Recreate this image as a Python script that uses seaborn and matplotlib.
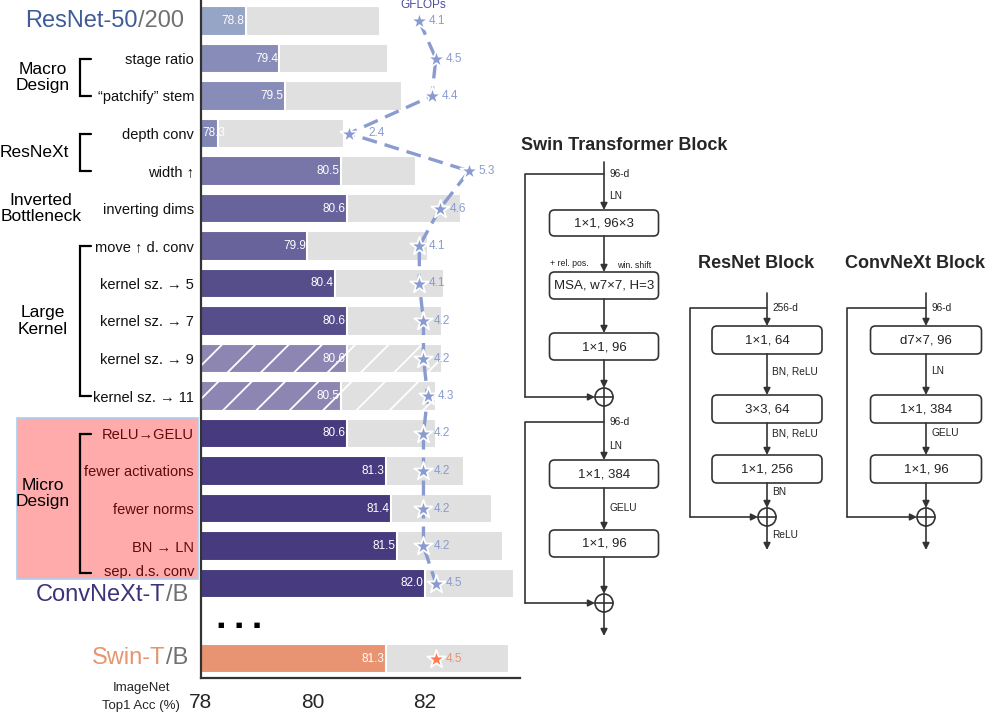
import numpy as np
import pandas as pd
import matplotlib
matplotlib.use("Agg")
import matplotlib.pyplot as plt
import matplotlib.transforms as mtransforms
from matplotlib.patches import FancyBboxPatch, Rectangle, Circle
import seaborn as sns

# ---------------------------
# DATA
# ---------------------------
row_keys = ["resnet", "stage", "patchify", "depth", "width", "invert", "move",
            "k5", "k7", "k9", "k11", "gelu", "act", "norms", "bnln", "ds", "gap", "swin"]
row_labels = ["", "stage ratio", "\u201cpatchify\u201d stem", "depth conv", "width \u2191",
              "inverting dims", "move \u2191 d. conv", "kernel sz. \u2192 5", "kernel sz. \u2192 7",
              "kernel sz. \u2192 9", "kernel sz. \u2192 11", "ReLU\u2192GELU", "fewer activations",
              "fewer norms", "BN \u2192 LN", "sep. d.s. conv", "", ""]
acc_t = [78.8, 79.4, 79.5, 78.3, 80.5, 80.6, 79.9, 80.4, 80.6, 80.6, 80.5,
         80.6, 81.3, 81.4, 81.5, 82.0, np.nan, 81.3]
acc_b = [81.2, 81.35, 81.6, 80.55, 81.85, 82.65, 82.05, 82.35, 82.3, 82.3, 82.2,
         82.2, 82.7, 83.2, 83.4, 83.6, np.nan, 83.5]
gflops = [4.1, 4.5, 4.4, 2.4, 5.3, 4.6, 4.1, 4.1, 4.2, 4.2, 4.3,
          4.2, 4.2, 4.2, 4.2, 4.5]
swin_gflops = 4.5
hatched = ["k9", "k11"]

bar_colors = ["#96a4c5", "#878db8", "#878db8", "#8187b4", "#7876a9", "#68639b", "#68639b",
              "#564e8b", "#564e8b", "#8d86b3", "#8d86b3", "#473a7e", "#473a7e", "#473a7e",
              "#473a7e", "#473a7e", "#ffffff", "#e89473"]

groups = [("Macro\nDesign", 1.5, 43, 1, 2), ("ResNeXt", 3.5, 34, 3, 4),
          ("Inverted\nBottleneck", 5, 41, None, None), ("Large\nKernel", 8, 43, 6, 10),
          ("Micro\nDesign", 12.6, 43, 11, 14.73)]

df = pd.DataFrame({"key": row_keys, "t": acc_t, "b": acc_b}).dropna()

# ---------------------------
# FIGURE
# ---------------------------
sns.set_style("white")
plt.rcParams["font.family"] = ["Liberation Sans", "DejaVu Sans"]
plt.rcParams["hatch.linewidth"] = 1.3
W, H = 986, 715
fig = plt.figure(figsize=(W / 100, H / 100), dpi=100)
ax = fig.add_axes([201 / W, 37 / H, 319 / W, 678 / H])
ax.set_facecolor("none")

sns.barplot(data=df, x="b", y="key", order=row_keys, color="#e0e0e0", saturation=1,
            width=0.78, errorbar=None, edgecolor="white", linewidth=1.5, ax=ax)
sns.barplot(data=df, x="t", y="key", order=row_keys, hue="key", legend=False,
            palette=dict(zip(row_keys, bar_colors)), saturation=1,
            width=0.78, errorbar=None, edgecolor="white", linewidth=1.5, ax=ax)

hatch_rows = [row_keys.index(k) for k in hatched]
for p in ax.patches:
    c = round(p.get_y() + p.get_height() / 2)
    if c in hatch_rows:
        p.set_hatch("/")
        p.set_edgecolor("white")

ax.set_xlim(78, 83.7)
ax.set_ylim(17.52, -0.56)
ax.set_xticks([78, 80, 82])
ax.set_xlabel("")
ax.set_ylabel("")
ax.tick_params(axis="x", length=0, pad=11, labelsize=15)
ax.set_yticks(range(len(row_keys)), labels=[l if k != "ds" else "" for k, l in zip(row_keys, row_labels)])
ax.tick_params(axis="y", length=0, pad=5, labelsize=10.5, labelcolor="#111111")
sns.despine(ax=ax)
for s in ["left", "bottom"]:
    ax.spines[s].set_color("#333333")
    ax.spines[s].set_linewidth(1.6)

# the last ConvNeXt step label sits a bit higher
ax.annotate(row_labels[row_keys.index("ds")], xy=(0, row_keys.index("ds")),
            xycoords=("axes fraction", "data"), xytext=(-5, 8), textcoords="offset points",
            ha="right", va="center", fontsize=10.5, color="#111111")

# accuracy values inside bars
for i, v in enumerate(acc_t):
    if np.isnan(v):
        continue
    ax.annotate(f"{v:.1f}", xy=(max(v, 78.45), i), xytext=(-1, 0), textcoords="offset points",
                ha="right", va="center", fontsize=8.5, color="white")

# "..." between ConvNeXt and Swin
ax.text(78.68, row_keys.index("gap") + 0.1, "\u25a0     \u25a0     \u25a0", ha="center", va="center",
        fontsize=5, color="black", family="DejaVu Sans")

# ---------------------------
# GFLOPs line
# ---------------------------
ax2 = fig.add_axes(ax.get_position().bounds)
ax2.set_facecolor("none")
ax2.set_xlim(-1.17, 6.53)
ax2.set_ylim(ax.get_ylim())
gpos = list(range(len(gflops)))
sns.lineplot(x=gflops, y=gpos, sort=False, estimator=None, color="#8a9ccf", lw=2.4,
             linestyle=(0, (4.5, 2.4)), ax=ax2)
sns.scatterplot(x=gflops, y=gpos, marker="*", s=190, color="#8a9ccf", edgecolor="white",
                linewidth=1.3, zorder=5, ax=ax2)
swin_row = row_keys.index("swin")
sns.scatterplot(x=[swin_gflops], y=[swin_row], marker="*", s=190, color="#ff7a50",
                edgecolor="white", linewidth=1.3, zorder=5, ax=ax2)
for i, g in enumerate(gflops):
    ax2.annotate(f"{g:.1f}", xy=(g, i), xytext=(7 if g > 3 else 14, 0), textcoords="offset points",
                 ha="left", va="center", fontsize=8.5, color="#8a9ccf")
ax2.annotate(f"{swin_gflops:.1f}", xy=(swin_gflops, swin_row), xytext=(7, 0),
             textcoords="offset points", ha="left", va="center", fontsize=8.5, color="#e8946f")
ax2.annotate("GFLOPs", xy=(gflops[0], 0), xytext=(3, 11.5), textcoords="offset points",
             ha="center", va="center", fontsize=8.5, color="#4b4ba0")
ax2.axis("off")

# ---------------------------
# overlay in pixel coordinates (labels left, block diagrams right)
# ---------------------------
lay = fig.add_axes([0, 0, 1, 1])
lay.set_xlim(0, W)
lay.set_ylim(H, 0)
lay.axis("off")
lay.set_facecolor("none")
mix = mtransforms.blended_transform_factory(lay.transData, ax.transData)


def two_tone(a, b, color_a, row, x_right, dy=0):
    t2 = lay.annotate(b, xy=(x_right, row), xycoords=mix, xytext=(0, dy), textcoords="offset points",
                      ha="right", va="center", fontsize=17, color="#707070")
    lay.annotate(a, xy=(0, 0), xycoords=t2, ha="right", va="bottom", fontsize=17, color=color_a)


two_tone("ResNet-50", "/200", "#3f5c99", 0, 184)
two_tone("ConvNeXt-T", "/B", "#3d3378", row_keys.index("ds"), 188, dy=-8)
two_tone("Swin-T", "/B", "#e8946f", swin_row, 188)

for name, yc, xc, r0, r1 in groups:
    lay.text(xc, yc, name, transform=mix, ha="center", va="center", fontsize=12.5,
             linespacing=1.1, color="black")
    if r0 is not None:
        lay.plot([91, 80, 80, 91], [r0, r0, r1, r1], transform=mix, color="black", lw=1.6,
                 solid_joinstyle="miter")

# red translucent box over the micro design labels
lay.add_patch(Rectangle((17, 418), 181, 161, facecolor=(1, 0, 0, 0.33), edgecolor="none"))
lay.add_patch(Rectangle((17, 418), 181, 161, facecolor="none", edgecolor="#a8cff2", lw=1.2))

lay.text(141, 688, "ImageNet", ha="center", va="center", fontsize=9.5)
lay.text(141, 706, "Top1 Acc (%)", ha="center", va="center", fontsize=9.5)

LC = "#333333"


def box(cx, y0, y1, w, txt):
    lay.add_patch(FancyBboxPatch((cx - w / 2, y0), w, y1 - y0,
                                 boxstyle="round,pad=0,rounding_size=5",
                                 facecolor="white", edgecolor=LC, lw=1.2))
    lay.text(cx, (y0 + y1) / 2 + 0.5, txt, ha="center", va="center", fontsize=9.5, color="#222222")


def arrow(x, y0, y1):
    lay.annotate("", xy=(x, y1), xytext=(x, y0),
                 arrowprops=dict(arrowstyle="-|>", color=LC, lw=1.2, mutation_scale=10,
                                 shrinkA=0, shrinkB=0))


def plus(x, y, r=9):
    lay.add_patch(Circle((x, y), r, facecolor="white", edgecolor=LC, lw=1.2))
    lay.plot([x - r, x + r], [y, y], color=LC, lw=1.2)
    lay.plot([x, x], [y - r, y + r], color=LC, lw=1.2)


def skip(x, y_top, y_bot, x_left, r=9):
    lay.plot([x, x_left, x_left], [y_top, y_top, y_bot], color=LC, lw=1.2)
    lay.annotate("", xy=(x - r, y_bot), xytext=(x_left, y_bot),
                 arrowprops=dict(arrowstyle="-|>", color=LC, lw=1.2, mutation_scale=10,
                                 shrinkA=0, shrinkB=0))


def note(x, y, txt, fs=7.3):
    lay.text(x, y, txt, ha="left", va="center", fontsize=fs, color="#222222")


# Swin Transformer block
sx = 604
lay.text(521, 145, "Swin Transformer Block", ha="left", va="center", fontsize=13, fontweight="bold")
skip(sx, 174, 397, 525)
arrow(sx, 162, 210)
box(sx, 210, 236, 109, "1\u00d71, 96\u00d73")
arrow(sx, 236, 272)
box(sx, 272, 299, 109, "MSA, w7\u00d77, H=3")
arrow(sx, 299, 333)
box(sx, 333, 360, 109, "1\u00d71, 96")
arrow(sx, 360, 388)
plus(sx, 397)
skip(sx, 422, 603, 525)
arrow(sx, 406, 460)
box(sx, 460, 488, 109, "1\u00d71, 384")
arrow(sx, 488, 530)
box(sx, 530, 557, 109, "1\u00d71, 96")
arrow(sx, 557, 594)
plus(sx, 603)
arrow(sx, 612, 636)
note(609, 174, "96-d")
note(609, 196, "LN")
note(550, 264, "+ rel. pos.", fs=6.3)
note(617, 266, "win. shift", fs=6.3)
note(609, 422, "96-d")
note(609, 446, "LN")
note(609, 508, "GELU")

# ResNet block
rx = 767
lay.text(698, 263, "ResNet Block", ha="left", va="center", fontsize=13, fontweight="bold")
skip(rx, 308, 517, 690)
arrow(rx, 293, 326)
box(rx, 326, 354, 110, "1\u00d71, 64")
arrow(rx, 354, 395)
box(rx, 395, 423, 110, "3\u00d73, 64")
arrow(rx, 423, 455)
box(rx, 455, 483, 110, "1\u00d71, 256")
arrow(rx, 483, 508)
plus(rx, 517)
arrow(rx, 526, 550)
note(772, 308, "256-d")
note(772, 371, "BN, ReLU")
note(772, 433, "BN, ReLU")
note(772, 492, "BN")
note(772, 535, "ReLU")

# ConvNeXt block
cx = 926
lay.text(845, 263, "ConvNeXt Block", ha="left", va="center", fontsize=13, fontweight="bold")
skip(cx, 308, 517, 847)
arrow(cx, 293, 326)
box(cx, 326, 354, 111, "d7\u00d77, 96")
arrow(cx, 354, 395)
box(cx, 395, 423, 111, "1\u00d71, 384")
arrow(cx, 423, 455)
box(cx, 455, 483, 111, "1\u00d71, 96")
arrow(cx, 483, 508)
plus(cx, 517)
arrow(cx, 526, 550)
note(931, 308, "96-d")
note(931, 371, "LN")
note(931, 433, "GELU")

fig.savefig("out.png", dpi=100)
